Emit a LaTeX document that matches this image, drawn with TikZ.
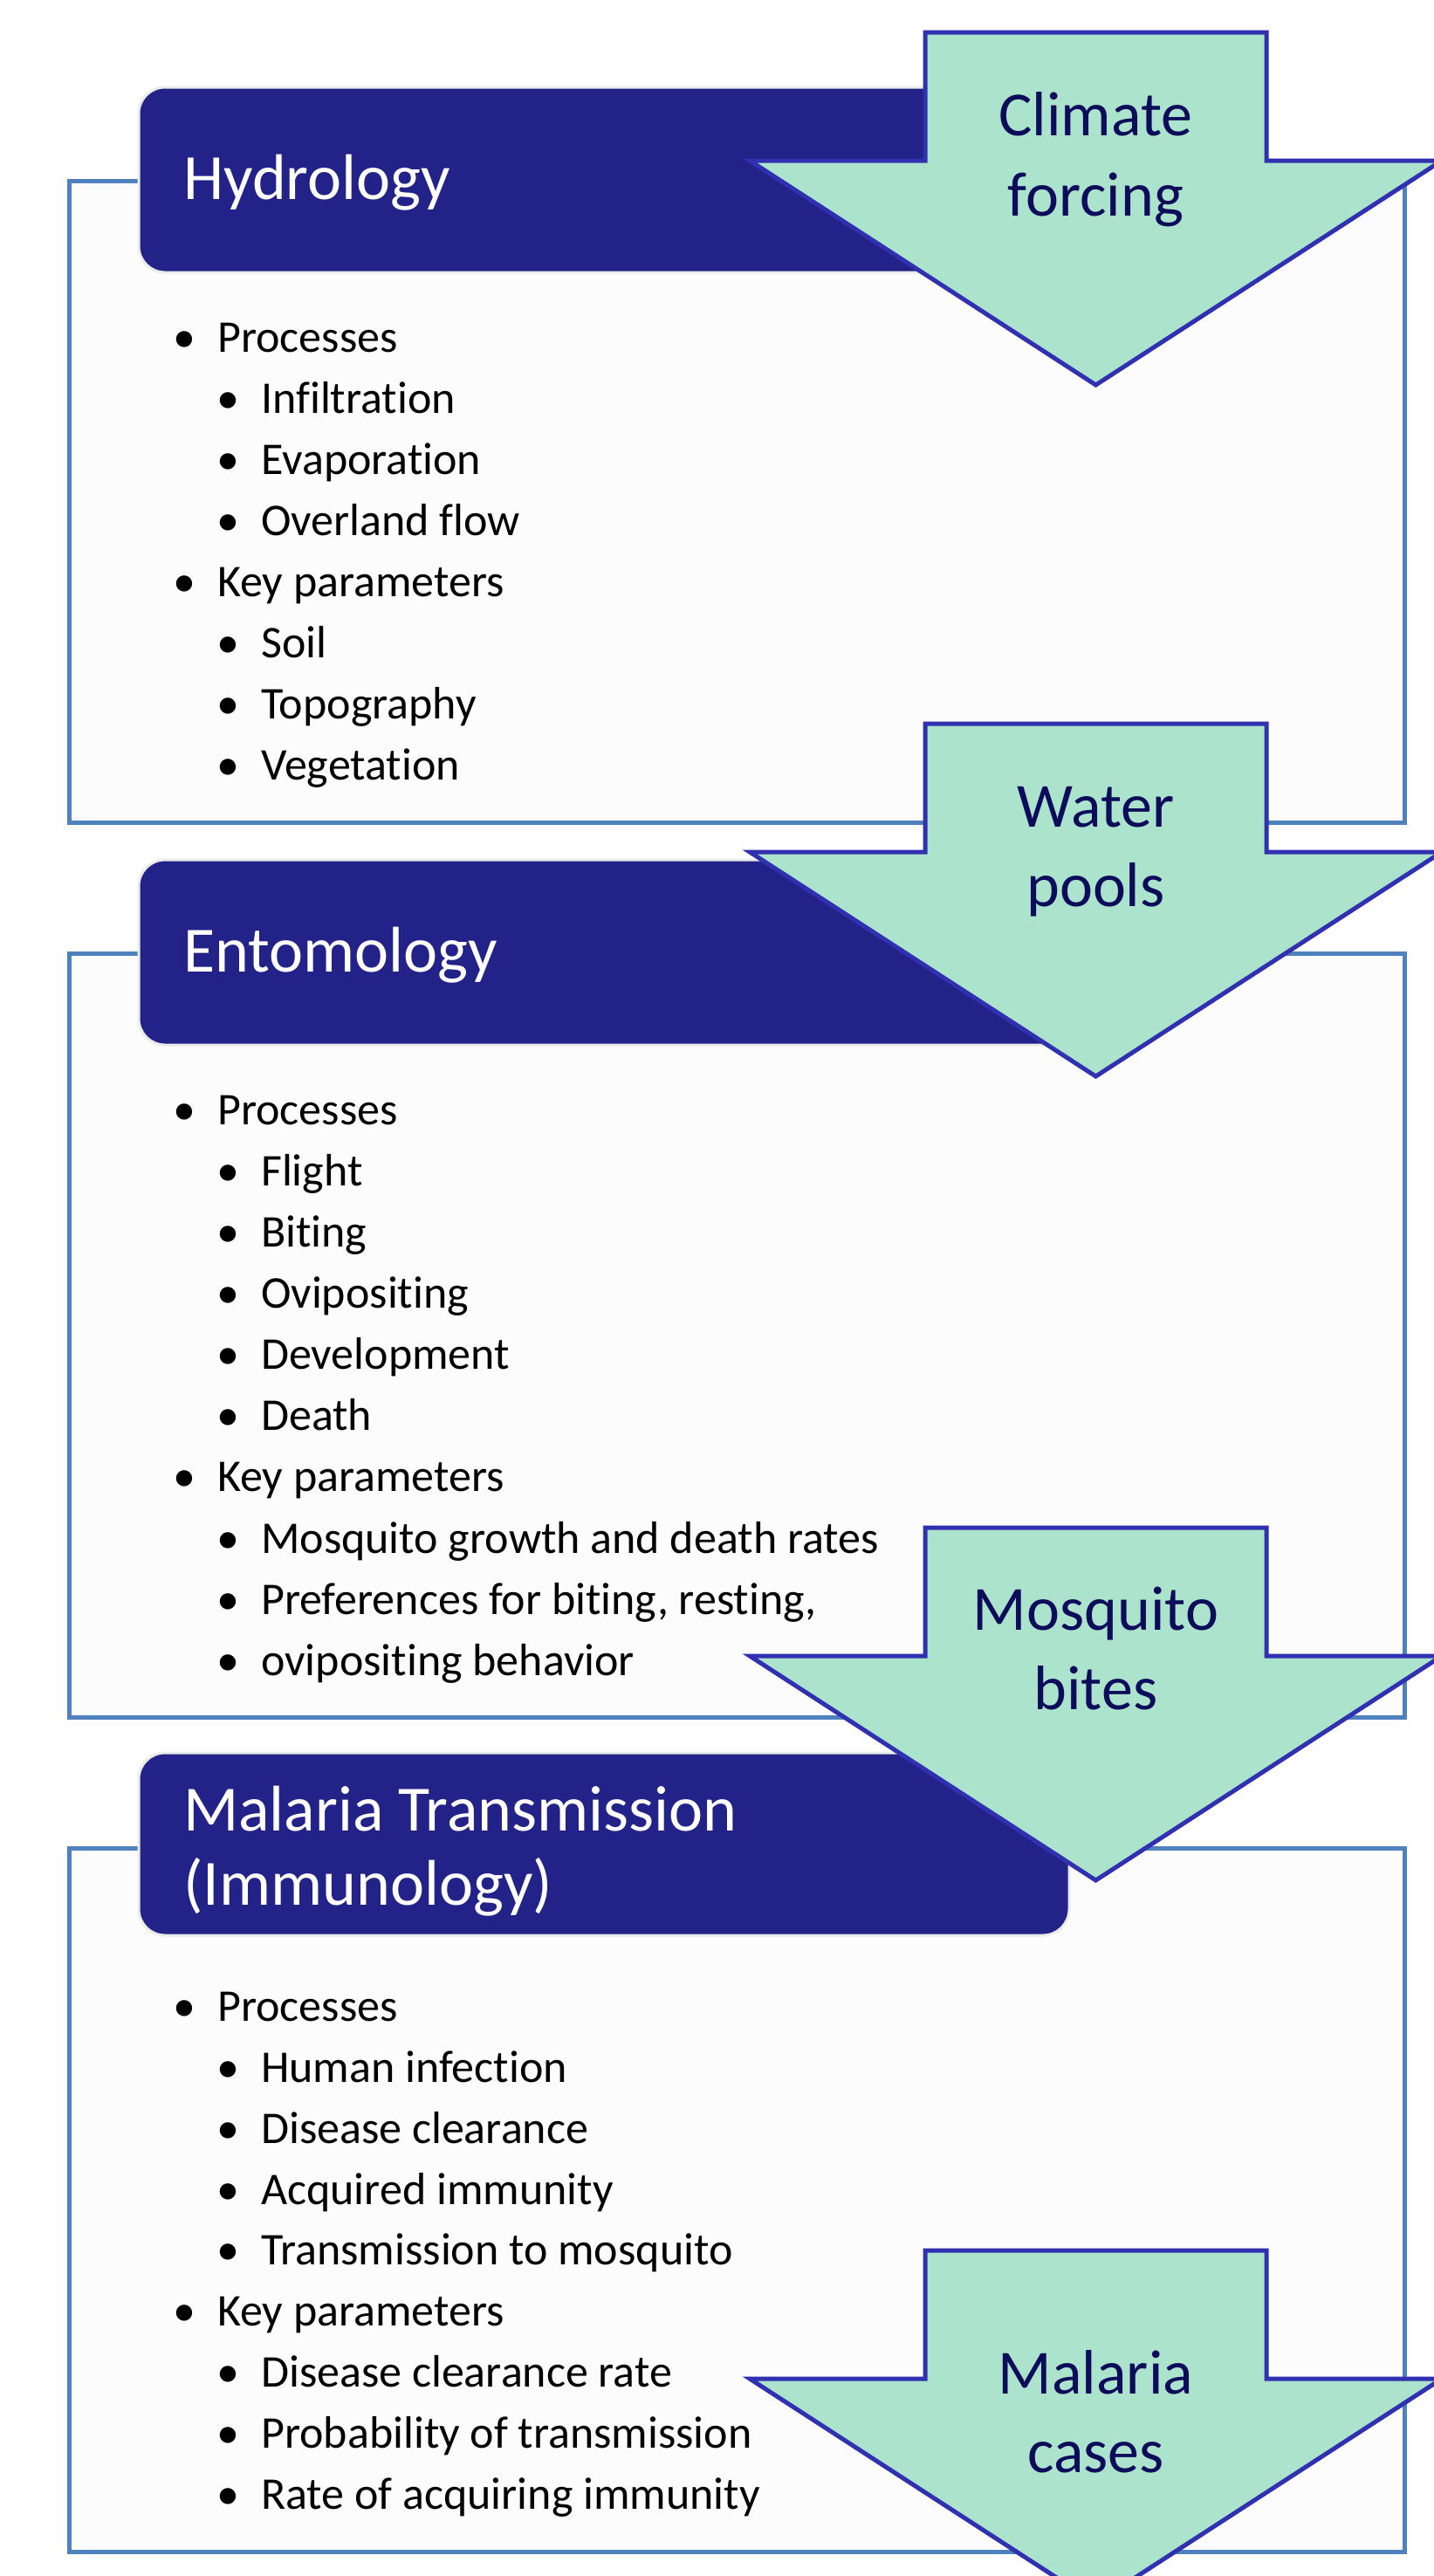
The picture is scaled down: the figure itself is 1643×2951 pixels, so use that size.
\documentclass[tikz,border=0pt]{standalone}
\usepackage{fontspec}
\setmainfont{Carlito}[Ligatures={NoCommon,NoContextual,NoRare},Contextuals=NoAlternate]
\definecolor{boxline}{RGB}{79,129,189}
\definecolor{hdr}{RGB}{34,34,136}
\definecolor{arrfill}{RGB}{171,227,204}
\definecolor{arrline}{RGB}{48,48,176}
\definecolor{arrtext}{RGB}{12,12,90}
\definecolor{panelfill}{RGB}{252,252,252}
\newcommand{\bl}[4]{\node[bul] (#1) at (#2,#3) {\makebox[51pt][l]{•}#4};}
\begin{document}
\begin{tikzpicture}[x=1pt,y=-1pt,
  panel/.style={draw=boxline, line width=5pt, fill=panelfill},
  header/.style={fill=hdr, draw=black!8, line width=3pt, rounded corners=30pt},
  blockarrow/.style={fill=arrfill, draw=arrline, line width=5pt, line join=miter},
  hdrtext/.style={anchor=base west, inner sep=0pt, text=white, font=\fontsize{74}{88}\selectfont},
  arrtxt/.style={anchor=base, inner sep=0pt, text=arrtext, font=\fontsize{72}{86}\selectfont},
  bul/.style={anchor=base west, inner sep=0pt, text=black, font=\fontsize{52}{62}\selectfont}]
\useasboundingbox (0,0) rectangle (1643,2951);
\fill[white] (0,0) rectangle (1643,2951);

% panels
\draw[panel] (79,207) rectangle (1609,942);
\draw[panel] (79,1092) rectangle (1609,1967);
\draw[panel] (79,2117) rectangle (1609,2923);

% headers
\draw[header] (159,100) rectangle (1225,312);
\draw[header] (159,985) rectangle (1225,1197);
\draw[header] (159,2008) rectangle (1225,2217);
\node[hdrtext] (h1) at (210,228) {Hydrology};
\node[hdrtext] (h2) at (210,1113) {Entomology};
\node[hdrtext] (h3a) at (210,2097) {Malaria Transmission};
\node[hdrtext] (h3b) at (210,2182) {(Immunology)};

% Hydrology bullets
\bl{a1}{198}{403}{Processes}
\bl{a2}{248}{473}{Infiltration}
\bl{a3}{248}{543}{Evaporation}
\bl{a4}{248}{613}{Overland flow}
\bl{a5}{198}{683}{Key parameters}
\bl{a6}{248}{753}{Soil}
\bl{a7}{248}{823}{Topography}
\bl{a8}{248}{893}{Vegetation}

% Entomology bullets
\bl{b1}{198}{1288}{Processes}
\bl{b2}{248}{1358}{Flight}
\bl{b3}{248}{1428}{Biting}
\bl{b4}{248}{1498}{Ovipositing}
\bl{b5}{248}{1568}{Development}
\bl{b6}{248}{1638}{Death}
\bl{b7}{198}{1708}{Key parameters}
\bl{b8}{248}{1779}{Mosquito growth and death rates}
\bl{b9}{248}{1849}{Preferences for biting, resting,}
\bl{b10}{248}{1919}{ovipositing behavior}

% Malaria bullets
\bl{c1}{198}{2315}{Processes}
\bl{c2}{248}{2385}{Human infection}
\bl{c3}{248}{2455}{Disease clearance}
\bl{c4}{248}{2525}{Acquired immunity}
\bl{c5}{248}{2594}{Transmission to mosquito}
\bl{c6}{198}{2664}{Key parameters}
\bl{c7}{248}{2734}{Disease clearance rate}
\bl{c8}{248}{2804}{Probability of transmission}
\bl{c9}{248}{2874}{Rate of acquiring immunity}

% block arrows
\foreach \t in {37,829,1750,2578}{
  \begin{scope}[shift={(0,\t)}]
    \draw[blockarrow] (1060,0) -- (1451,0) -- (1451,147) -- (1652,147)
      -- (1255.5,404) -- (859,147) -- (1060,147) -- cycle;
  \end{scope}
}
\node[arrtxt] (t1a) at (1255.5,155) {Climate};
\node[arrtxt] (t1b) at (1255.5,247) {forcing};
\node[arrtxt] (t2a) at (1255.5,947) {Water};
\node[arrtxt] (t2b) at (1255.5,1038) {pools};
\node[arrtxt] (t3a) at (1255.5,1867) {Mosquito};
\node[arrtxt] (t3b) at (1255.5,1958) {bites};
\node[arrtxt] (t4a) at (1255.5,2742) {Malaria};
\node[arrtxt] (t4b) at (1255.5,2832) {cases};
\end{tikzpicture}
\end{document}
